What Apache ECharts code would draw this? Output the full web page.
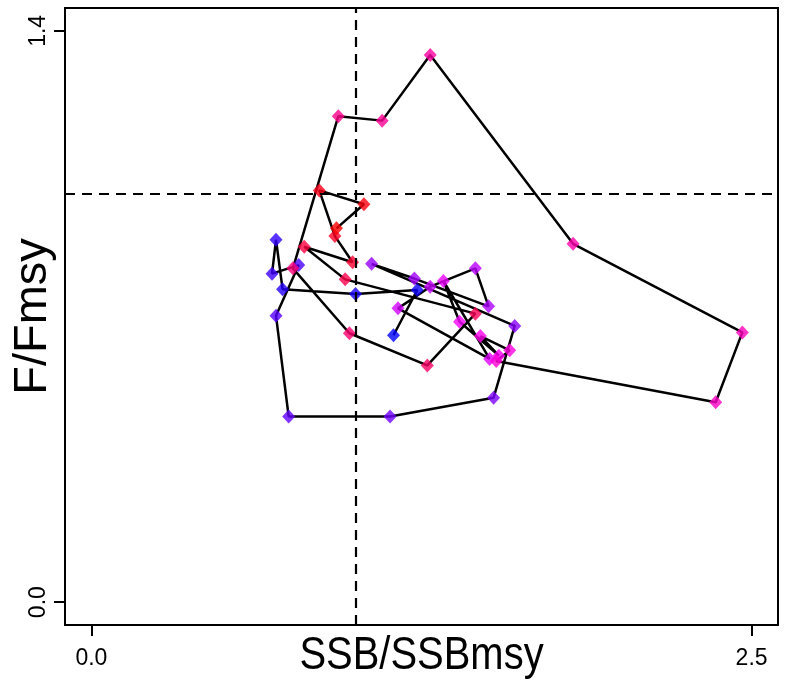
<!DOCTYPE html>
<html>
<head>
<meta charset="utf-8">
<script src="https://cdn.jsdelivr.net/npm/echarts@6/dist/echarts.min.js"></script>
<style>
html,body{margin:0;padding:0;background:#fff;}
#chart{width:790px;height:681px;}
</style>
</head>
<body>
<div id="chart"></div>
<script>
// Trajectory (in time order): SSB/SSBmsy and F/Fmsy
const ssb = [1.144,1.234,1.000,0.724,0.699,0.684,0.785,0.699,0.747,1.131,
             1.523,1.603,1.061,1.223,1.504,1.454,1.283,1.161,1.508,1.333,
             1.394,1.543,1.473,1.584,1.533,2.364,2.465,1.824,1.283,1.101,
             0.935,0.763,0.977,1.272,1.454,0.961,0.806,0.989,0.922,0.863,
             1.032,0.928];
const ffmsy = [0.654,0.765,0.755,0.767,0.888,0.805,0.826,0.702,0.455,0.455,
               0.501,0.677,0.829,0.793,0.725,0.818,0.773,0.720,0.596,0.787,
               0.687,0.604,0.652,0.617,0.591,0.490,0.661,0.878,1.341,1.180,
               1.191,0.818,0.659,0.580,0.707,0.791,0.871,0.833,0.897,1.009,
               0.975,0.916];
const xTicks = [0, 2.5];
const yTicks = [0, 1.4];
const refX = 1, refY = 1;
const xTitle = 'SSB/SSBmsy';
const yTitle = 'F/Fmsy';

const n = ssb.length;
const pts = ssb.map((x, i) => [x, ffmsy[i]]);
function rampColor(i) {
  const t = n > 1 ? i / (n - 1) : 0;
  let r, g = 0, b;
  if (t < 0.5) { r = Math.round(510 * t); b = 255; }
  else { r = 255; b = Math.round(255 * (1 - (t - 0.5) * 2)); }
  return 'rgb(' + r + ',' + g + ',' + b + ')';
}

const chart = echarts.init(document.getElementById('chart'), null, {renderer: 'canvas'});
const font = '"Liberation Sans", Arial, Helvetica, sans-serif';
chart.setOption({
  animation: false,
  backgroundColor: '#fff',
  grid: {left: 65, right: 12, top: 8, bottom: 56, show: true, borderColor: '#000', borderWidth: 2,
         backgroundColor: 'transparent', containLabel: false, outerBoundsMode: 'none'},
  graphic: [{
    type: 'text', x: 421.5, y: 656, scaleX: 0.85, scaleY: 1, silent: true,
    style: {text: xTitle, x: 0, y: 0, fill: '#000', font: '47px ' + font, align: 'center', verticalAlign: 'middle'}
  }],
  xAxis: {
    type: 'value', min: -0.1, max: 2.6,
    axisLine: {show: false, onZero: false},
    axisTick: {show: true, inside: false, length: 11, lineStyle: {color: '#000', width: 2}, customValues: xTicks},
    axisLabel: {show: true, margin: 22, fontFamily: font, fontSize: 23, color: '#000', customValues: xTicks,
                formatter: v => v.toFixed(1)},
    splitLine: {show: false}
  },
  yAxis: {
    type: 'value', min: -0.056, max: 1.456,
    name: yTitle, nameLocation: 'middle', nameGap: 8, nameRotate: 90, nameMoveOverlap: false,
    nameTextStyle: {fontFamily: font, fontSize: 47, color: '#000'},
    axisLine: {show: false, onZero: false},
    axisTick: {show: true, inside: false, length: 11, lineStyle: {color: '#000', width: 2}, customValues: yTicks},
    axisLabel: {show: true, margin: 15, rotate: 90, fontFamily: font, fontSize: 23, color: '#000', customValues: yTicks,
                formatter: v => v.toFixed(1), align: 'center', verticalAlign: 'bottom'},
    splitLine: {show: false}
  },
  series: [
    {
      type: 'line', data: pts, showSymbol: false, symbol: 'none', smooth: false,
      lineStyle: {color: '#000', width: 2.5}, z: 2,
      markLine: {
        silent: true, symbol: ['none', 'none'], label: {show: false},
        lineStyle: {color: '#000', width: 2.2, type: [10, 7]},
        data: [{xAxis: refX}, {yAxis: refY}]
      }
    },
    {
      type: 'scatter', data: pts, symbol: 'diamond', symbolSize: [13, 14], z: 3,
      itemStyle: {color: p => rampColor(p.dataIndex), borderWidth: 0}
    }
  ]
});
</script>
</body>
</html>
